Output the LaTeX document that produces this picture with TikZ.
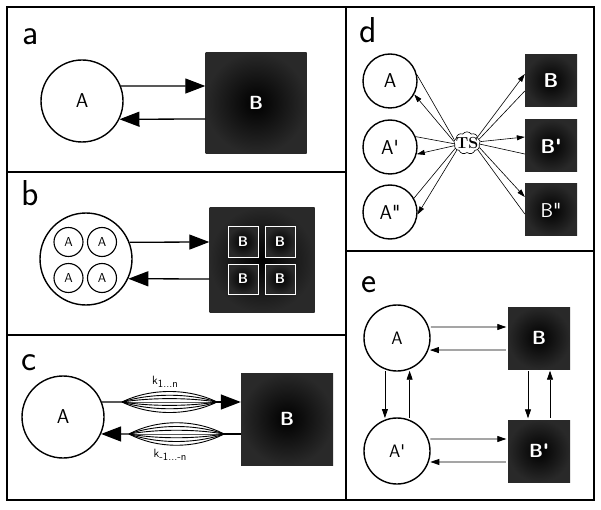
\documentclass[tikz,border=0pt]{standalone}
\usepackage{fontspec}
\usetikzlibrary{arrows.meta,shapes.symbols,calc}
\newcommand{\fsz}[1]{\fontsize{#1}{#1}\selectfont}
\begin{document}
\begin{tikzpicture}[x=1pt,y=-1pt,
  frame/.style={draw=black,line width=1.4pt},
  plabel/.style={anchor=base west,inner sep=0pt,font=\sffamily\fsz{36}},
  acirc/.style={circle,draw=black,line width=1.4pt,fill=white,inner sep=0pt},
  bsq/.style={rectangle,inner sep=0pt,inner color=black,outer color=black!84,text=white},
  bigarrow/.style={line width=1.3pt,-{Triangle[length=20pt,width=15pt]}},
  spline/.style={line width=0.9pt},
  plainline/.style={line width=1.3pt},
  dline/.style={line width=0.6pt},
  darrow/.style={line width=0.6pt,-{Triangle[length=8pt,width=5pt]}},
  earrow/.style={line width=0.8pt,-{Triangle[length=9pt,width=6pt]},shorten >=1.5pt,shorten <=2pt}]
\useasboundingbox (0,0) rectangle (601,510);
\fill[white] (0,0) rectangle (601,510);

% frames
\draw[frame] (7,7) rectangle (594,500);
\draw[frame] (346,7) -- (346,500);
\draw[frame] (7,172) -- (346,172);
\draw[frame] (7,335) -- (346,335);
\draw[frame] (346,251) -- (594,251);

% panel labels
\node[plabel] (la) at (22,45) {a};
\node[plabel] (lb) at (21,206) {b};
\node[plabel] (lc) at (21,370) {c};
\node[plabel] (ld) at (359,43) {d};
\node[plabel] (le) at (361,292) {e};

% ---- panel a
\node[acirc,minimum size=82pt,font=\sffamily\fsz{20}] (aA) at (82,101) {A};
\node[bsq,minimum size=101pt,font=\sffamily\bfseries\fsz{19}] (aB) at (256,103) {B};
\draw[bigarrow] (aA.21.5) -- ([yshift=17pt]aB.west);
\draw[bigarrow] ([yshift=-16pt]aB.west) -- (aA.-26);

% ---- panel b
\node[acirc,minimum size=92pt] (bA) at (86,259) {};
\foreach \n/\x/\y in {1/68.5/242,2/102/242,3/68.5/278,4/102/278}
  \node[acirc,minimum size=29pt,line width=1.1pt,font=\sffamily\fsz{13}] (bA\n) at (\x,\y) {A};
\node[bsq,minimum size=105pt] (bB) at (262,260) {};
\foreach \n/\x/\y in {1/243/242,2/280/242,3/243/279,4/280/279}
  \node[bsq,draw=white,line width=1pt,minimum size=30pt,font=\sffamily\bfseries\fsz{14}] (bB\n) at (\x,\y) {B};
\draw[bigarrow] (bA.21.7) -- ([yshift=18pt]bB.west);
\draw[bigarrow] ([yshift=-19pt]bB.west) -- (bA.-25.8);

% ---- panel c
\node[acirc,minimum size=82pt,font=\sffamily\fsz{20}] (cA) at (63,417) {A};
\node[bsq,minimum size=92pt,font=\sffamily\bfseries\fsz{19}] (cB) at (287,419) {B};
\coordinate (k1s) at (122,402);
\coordinate (k1e) at (217,402);
\coordinate (k2s) at (224,434);
\coordinate (k2e) at (129,434);
\draw[plainline] (cA.21.5) -- (k1s);
\foreach \h in {-14,-9,-4.5,0,4.5,9,14}
  \draw[spline] (k1s) .. controls ($(k1s)!0.3!(k1e)+(0,\h)$) and ($(k1s)!0.7!(k1e)+(0,\h)$) .. (k1e);
\draw[bigarrow] (k1e) -- ([yshift=17pt]cB.west);
\draw[plainline] ([yshift=-15pt]cB.west) -- (k2s);
\foreach \h in {-15,-10,-5,0,5,10,15}
  \draw[spline] (k2s) .. controls ($(k2s)!0.3!(k2e)+(0,\h)$) and ($(k2s)!0.7!(k2e)+(0,\h)$) .. (k2e);
\draw[bigarrow] (k2e) -- (cA.-24.5);
\node[font=\sffamily\fsz{12},inner sep=0pt] (k1) at (165,382) {k\raisebox{-3.5pt}{\fsz{11}1...n}};
\node[font=\sffamily\fsz{12},inner sep=0pt] (k2) at (170,455) {k\raisebox{-3.5pt}{\fsz{11}-1...-n}};

% ---- panel d
\node[acirc,minimum size=54pt,font=\sffamily\fsz{20}] (dA) at (390,81) {A};
\node[acirc,minimum size=54pt,font=\sffamily\fsz{20}] (dA1) at (390,147) {A\textquotesingle};
\node[acirc,minimum size=54pt,font=\sffamily\fsz{20}] (dA2) at (390,212) {A\textquotedbl};
\node[bsq,minimum size=52pt,font=\sffamily\bfseries\fsz{20}] (dB) at (551,81) {B};
\node[bsq,minimum size=52pt,font=\sffamily\bfseries\fsz{20}] (dB1) at (551,146) {B\textquotesingle};
\node[bsq,minimum size=52pt,font=\sffamily\fsz{20}] (dB2) at (551,210) {B\textquotedbl};
\node[cloud,draw,line width=0.6pt,fill=white,cloud puffs=9,cloud puff arc=110,aspect=1.3,inner sep=-2.5pt,font=\bfseries\fsz{16}] (TS) at (467,143) {TS};
\draw[dline] (dA.13) -- (TS.165);
\draw[darrow] (TS.172) -- (dA.-29);
\draw[dline] (dA1.22) -- (TS.183);
\draw[darrow] (TS.192) -- (dA1.-15);
\draw[dline] (dA2.30) -- (TS.205);
\draw[darrow] (TS.215) -- (dA2.-5);
\draw[darrow] (TS.30) -- ([yshift=7pt]dB.west);
\draw[dline] ([yshift=-10pt]dB.west) -- (TS.18);
\draw[darrow] (TS.6) -- ([yshift=9pt]dB1.west);
\draw[dline] ([yshift=-8pt]dB1.west) -- (TS.-5);
\draw[darrow] (TS.-20) -- ([yshift=13pt]dB2.west);
\draw[dline] ([yshift=-4pt]dB2.west) -- (TS.-32);

% ---- panel e
\node[acirc,minimum size=66pt,font=\sffamily\fsz{18}] (eA) at (397,338) {A};
\node[acirc,minimum size=66pt,font=\sffamily\fsz{18}] (eA1) at (397,451) {A\textquotesingle};
\node[bsq,minimum size=62pt,font=\sffamily\bfseries\fsz{19}] (eB) at (539,338) {B};
\node[bsq,minimum size=62pt,font=\sffamily\bfseries\fsz{19}] (eB1) at (539,451) {B\textquotesingle};
\draw[earrow] (eA.19.5) -- ([yshift=11pt]eB.west);
\draw[earrow] ([yshift=-12pt]eB.west) -- (eA.-21);
\draw[earrow] (eA.-111.3) -- (eA1.111.3);
\draw[earrow] (eA1.68.7) -- (eA.-68.7);
\draw[earrow] ([xshift=-11pt]eB.south) -- ([xshift=-11pt]eB1.north);
\draw[earrow] ([xshift=11pt]eB1.north) -- ([xshift=11pt]eB.south);
\draw[earrow] (eA1.21.3) -- ([yshift=12pt]eB1.west);
\draw[earrow] ([yshift=-11pt]eB1.west) -- (eA1.-19.5);
\end{tikzpicture}
\end{document}
